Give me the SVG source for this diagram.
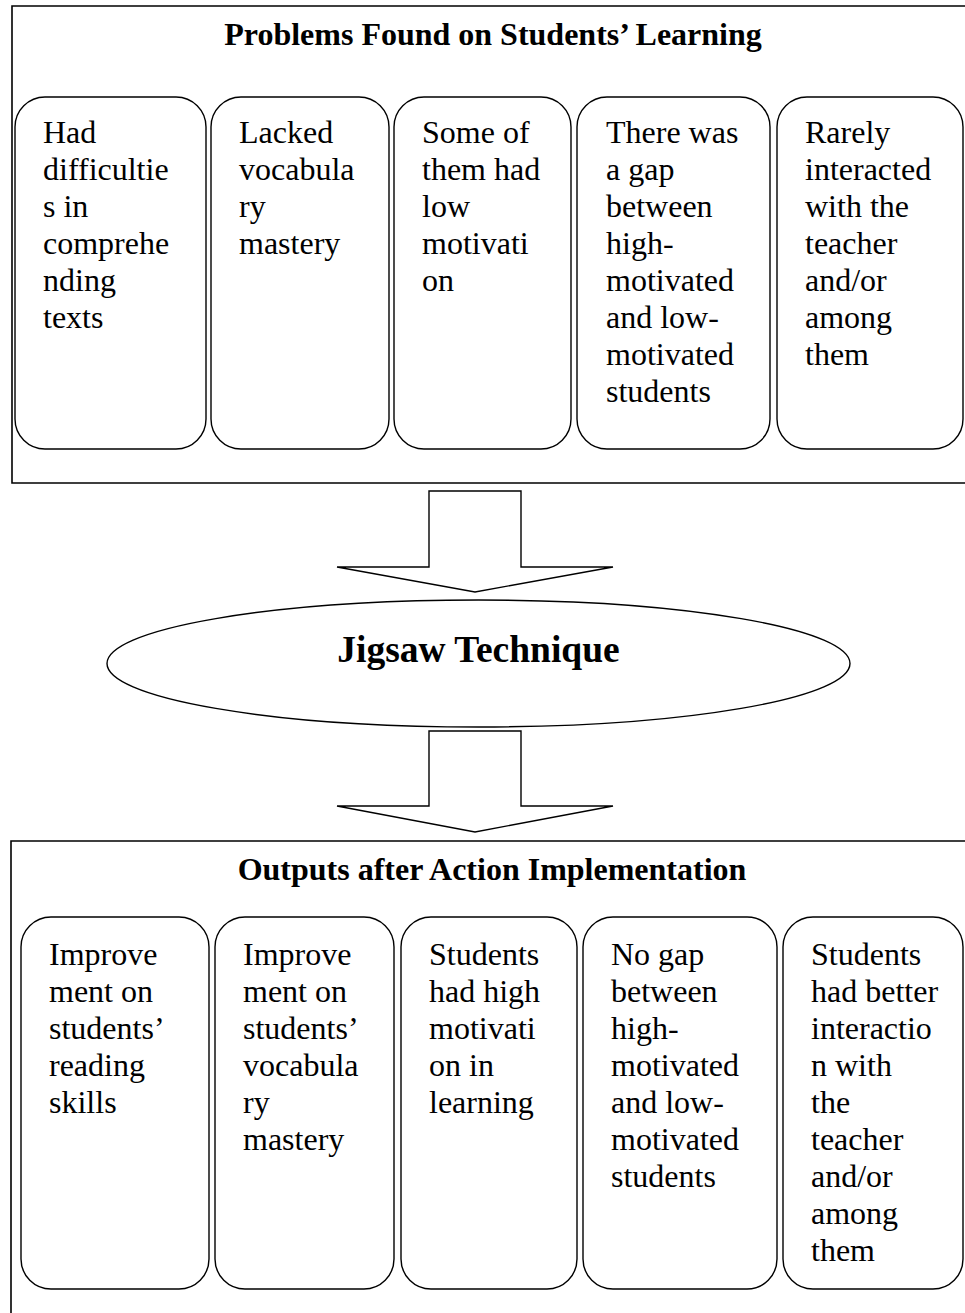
<svg xmlns="http://www.w3.org/2000/svg" width="965" height="1313" viewBox="0 0 965 1313">
<style>
.frame{fill:none;stroke:#000;stroke-width:1.6}
.box{fill:#fff;stroke:#000;stroke-width:1.4}
.arrow{fill:#fff;stroke:#000;stroke-width:1.4;stroke-linejoin:miter}
.t{font-family:"Liberation Serif","Times New Roman",serif;font-size:32px;fill:#000}
.h{font-family:"Liberation Serif","Times New Roman",serif;font-size:32px;font-weight:bold;fill:#000;text-anchor:middle}
.j{font-family:"Liberation Serif","Times New Roman",serif;font-size:37.5px;font-weight:bold;fill:#000;text-anchor:middle}
</style>
<rect width="965" height="1313" fill="#fff"/>
<g id="problems">
<path class="frame" d="M 990 6 H 12 V 483 H 990"/>
<text class="h" x="493" y="45">Problems Found on Students’ Learning</text>
<g id="p1"><rect class="box" x="15" y="97" width="191" height="352" rx="30" ry="30"/>
<text class="t"><tspan x="43" y="143">Had</tspan><tspan x="43" y="180">difficultie</tspan><tspan x="43" y="217">s in</tspan><tspan x="43" y="254">comprehe</tspan><tspan x="43" y="291">nding</tspan><tspan x="43" y="328">texts</tspan></text></g>
<g id="p2"><rect class="box" x="211" y="97" width="178" height="352" rx="30" ry="30"/>
<text class="t"><tspan x="239" y="143">Lacked</tspan><tspan x="239" y="180">vocabula</tspan><tspan x="239" y="217">ry</tspan><tspan x="239" y="254">mastery</tspan></text></g>
<g id="p3"><rect class="box" x="394" y="97" width="177" height="352" rx="30" ry="30"/>
<text class="t"><tspan x="422" y="143">Some of</tspan><tspan x="422" y="180">them had</tspan><tspan x="422" y="217">low</tspan><tspan x="422" y="254">motivati</tspan><tspan x="422" y="291">on</tspan></text></g>
<g id="p4"><rect class="box" x="577" y="97" width="193" height="352" rx="30" ry="30"/>
<text class="t"><tspan x="606" y="143">There was</tspan><tspan x="606" y="180">a gap</tspan><tspan x="606" y="217">between</tspan><tspan x="606" y="254">high-</tspan><tspan x="606" y="291">motivated</tspan><tspan x="606" y="328">and low-</tspan><tspan x="606" y="365">motivated</tspan><tspan x="606" y="402">students</tspan></text></g>
<g id="p5"><rect class="box" x="777" y="97" width="186" height="352" rx="30" ry="30"/>
<text class="t"><tspan x="805" y="143">Rarely</tspan><tspan x="805" y="180">interacted</tspan><tspan x="805" y="217">with the</tspan><tspan x="805" y="254">teacher</tspan><tspan x="805" y="291">and/or</tspan><tspan x="805" y="328">among</tspan><tspan x="805" y="365">them</tspan></text></g>
</g>
<g id="connectors">
<polygon class="arrow" points="429,491 521,491 521,567 613,567 475,592 337,567 429,567"/>
<polygon class="arrow" points="429,731 521,731 521,806 613,806 475,832 337,806 429,806"/>
</g>
<g id="jigsaw">
<ellipse class="box" cx="478.5" cy="663.5" rx="371.5" ry="63.5"/>
<text class="j" x="478.5" y="662">Jigsaw Technique</text>
</g>
<g id="outputs">
<path class="frame" d="M 990 841 H 11 V 1330"/>
<text class="h" x="492" y="880">Outputs after Action Implementation</text>
<g id="o1"><rect class="box" x="21" y="917" width="188" height="372" rx="30" ry="30"/>
<text class="t"><tspan x="49" y="965">Improve</tspan><tspan x="49" y="1002">ment on</tspan><tspan x="49" y="1039">students’</tspan><tspan x="49" y="1076">reading</tspan><tspan x="49" y="1113">skills</tspan></text></g>
<g id="o2"><rect class="box" x="215" y="917" width="179" height="372" rx="30" ry="30"/>
<text class="t"><tspan x="243" y="965">Improve</tspan><tspan x="243" y="1002">ment on</tspan><tspan x="243" y="1039">students’</tspan><tspan x="243" y="1076">vocabula</tspan><tspan x="243" y="1113">ry</tspan><tspan x="243" y="1150">mastery</tspan></text></g>
<g id="o3"><rect class="box" x="401" y="917" width="176" height="372" rx="30" ry="30"/>
<text class="t"><tspan x="429" y="965">Students</tspan><tspan x="429" y="1002">had high</tspan><tspan x="429" y="1039">motivati</tspan><tspan x="429" y="1076">on in</tspan><tspan x="429" y="1113">learning</tspan></text></g>
<g id="o4"><rect class="box" x="583" y="917" width="194" height="372" rx="30" ry="30"/>
<text class="t"><tspan x="611" y="965">No gap</tspan><tspan x="611" y="1002">between</tspan><tspan x="611" y="1039">high-</tspan><tspan x="611" y="1076">motivated</tspan><tspan x="611" y="1113">and low-</tspan><tspan x="611" y="1150">motivated</tspan><tspan x="611" y="1187">students</tspan></text></g>
<g id="o5"><rect class="box" x="783" y="917" width="180" height="372" rx="30" ry="30"/>
<text class="t"><tspan x="811" y="965">Students</tspan><tspan x="811" y="1002">had better</tspan><tspan x="811" y="1039">interactio</tspan><tspan x="811" y="1076">n with</tspan><tspan x="811" y="1113">the</tspan><tspan x="811" y="1150">teacher</tspan><tspan x="811" y="1187">and/or</tspan><tspan x="811" y="1224">among</tspan><tspan x="811" y="1261">them</tspan></text></g>
</g>
</svg>
